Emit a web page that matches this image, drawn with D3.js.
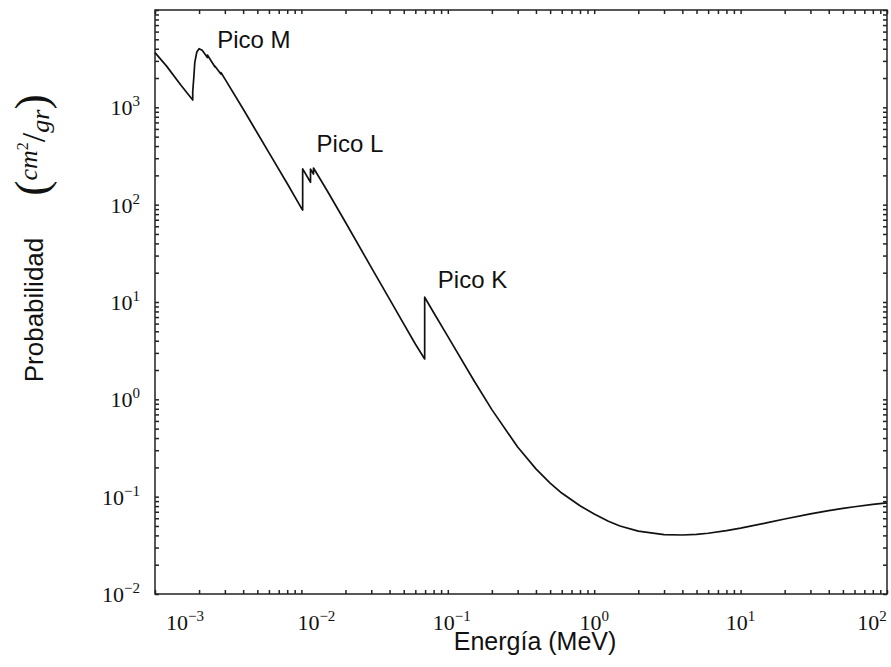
<!DOCTYPE html>
<html>
<head>
<meta charset="utf-8">
<script src="https://cdn.jsdelivr.net/npm/d3@7"></script>
<style>
  body { margin: 0; background: #fff; }
</style>
</head>
<body>
<div id="chart"></div>
<script>
// Energía (MeV) y probabilidad (cm²/gr)
const energy = [
  1.0e-3, 1.2e-3, 1.5e-3, 1.81e-3, 1.81e-3, 1.84e-3, 1.87e-3, 1.93e-3, 2.0e-3, 2.1e-3,
  2.28e-3, 2.28e-3, 2.57e-3, 2.57e-3, 2.82e-3, 2.82e-3, 3.0e-3, 4.0e-3, 5.0e-3, 6.0e-3,
  8.0e-3, 1.0e-2, 1.02e-2, 1.02e-2, 1.154e-2, 1.154e-2, 1.21e-2, 1.21e-2, 1.5e-2, 2.0e-2,
  3.0e-2, 4.0e-2, 5.0e-2, 6.0e-2, 6.95e-2, 6.95e-2, 8.0e-2, 0.1, 0.15, 0.2,
  0.3, 0.4, 0.5, 0.6, 0.8, 1, 1.25, 1.5, 2, 3,
  4, 5, 6, 8, 10, 15, 20, 30, 40, 50,
  60, 80, 100
];
const probability = [
  3650, 2650, 1700, 1190, 1450, 2000, 2900, 3700, 4000, 3850,
  3250, 3450, 2600, 2650, 2200, 2280, 1960, 960, 545, 342,
  165, 92, 88, 233, 170, 232, 206, 238, 139, 66,
  22.7, 10.7, 5.95, 3.7, 2.6, 11.2, 7.8, 4.44, 1.58, 0.784,
  0.324, 0.193, 0.138, 0.109, 0.0807, 0.0662, 0.0558, 0.05, 0.0443, 0.0408,
  0.0404, 0.041, 0.0421, 0.0447, 0.0475, 0.0538, 0.059, 0.0665, 0.072, 0.0757,
  0.0788, 0.0832, 0.0862
];

const xTickExps = [-3, -2, -1, 0, 1, 2];
const yTickExps = [-2, -1, 0, 1, 2, 3];

const peakLabels = ["Pico M", "Pico L", "Pico K"];
const peakEnergy = [2.66e-3, 1.27e-2, 8.55e-2];
const peakValue = [4070, 348, 13.9];

const width = 891;
const height = 667;
const marginTop = 10;
const marginRight = 4;
const marginBottom = 73;
const marginLeft = 155;

// desplazamiento de las etiquetas del eje x (como en la figura)
const xLabelShift = [30, 15, 4, 0, 0, -15];

const x = d3.scaleLog()
  .domain([1e-3, 1e2])
  .range([marginLeft, width - marginRight]);

const y = d3.scaleLog()
  .domain([1e-2, 1e4])
  .range([height - marginBottom, marginTop]);

const svg = d3.select("#chart")
  .append("svg")
  .attr("width", width)
  .attr("height", height)
  .attr("viewBox", [0, 0, width, height]);

// ticks menores y mayores
const minorTicks = (lo, hi) => {
  const t = [];
  for (let e = lo; e < hi; e++) {
    for (let m = 1; m < 10; m++) t.push(m * Math.pow(10, e));
  }
  t.push(Math.pow(10, hi));
  return t;
};
const xTicks = minorTicks(-3, 2);
const yTicks = minorTicks(-2, 4);

const tickStyle = g => g
  .call(g => g.select(".domain").remove())
  .call(g => g.selectAll(".tick line").attr("stroke", "#222").attr("stroke-width", 1.5));

svg.append("g")
  .attr("transform", `translate(0,${height - marginBottom})`)
  .call(d3.axisBottom(x).tickValues(xTicks).tickSize(-4).tickFormat(""))
  .call(tickStyle);
svg.append("g")
  .attr("transform", `translate(0,${marginTop})`)
  .call(d3.axisTop(x).tickValues(xTicks).tickSize(-4).tickFormat(""))
  .call(tickStyle);
svg.append("g")
  .attr("transform", `translate(${marginLeft},0)`)
  .call(d3.axisLeft(y).tickValues(yTicks).tickSize(-4).tickFormat(""))
  .call(tickStyle);
svg.append("g")
  .attr("transform", `translate(${width - marginRight},0)`)
  .call(d3.axisRight(y).tickValues(yTicks).tickSize(-4).tickFormat(""))
  .call(tickStyle);

// marco
svg.append("rect")
  .attr("x", marginLeft)
  .attr("y", marginTop)
  .attr("width", width - marginRight - marginLeft)
  .attr("height", height - marginBottom - marginTop)
  .attr("fill", "none")
  .attr("stroke", "#222")
  .attr("stroke-width", 1.5);

// etiquetas de ticks (10^n)
const powLabel = (sel) => {
  sel.append("tspan").text("10");
  sel.append("tspan")
    .attr("dy", -9)
    .attr("font-size", 15)
    .text(d => String(d).replace("-", "\u2212"));
};

svg.append("g")
  .attr("font-family", "'Liberation Serif', 'DejaVu Serif', serif")
  .attr("font-size", 22)
  .attr("fill", "#111")
  .selectAll("text")
  .data(xTickExps)
  .join("text")
  .attr("x", (d, i) => x(Math.pow(10, d)) + xLabelShift[i])
  .attr("y", height - marginBottom + 36)
  .attr("text-anchor", "middle")
  .call(powLabel);

svg.append("g")
  .attr("font-family", "'Liberation Serif', 'DejaVu Serif', serif")
  .attr("font-size", 22)
  .attr("fill", "#111")
  .selectAll("text")
  .data(yTickExps)
  .join("text")
  .attr("x", marginLeft - 15)
  .attr("y", d => y(Math.pow(10, d)) + 8)
  .attr("text-anchor", "end")
  .call(powLabel);

// curva
const points = energy.map((e, i) => [e, probability[i]]);
const line = d3.line()
  .x(d => x(d[0]))
  .y(d => y(d[1]));

svg.append("path")
  .datum(points)
  .attr("fill", "none")
  .attr("stroke", "#111")
  .attr("stroke-width", 1.7)
  .attr("stroke-linejoin", "round")
  .attr("d", line);

// picos
svg.append("g")
  .attr("font-family", "'Liberation Sans', Arial, sans-serif")
  .attr("font-size", 24)
  .attr("fill", "#111")
  .selectAll("text")
  .data(peakLabels)
  .join("text")
  .attr("x", (d, i) => x(peakEnergy[i]))
  .attr("y", (d, i) => y(peakValue[i]))
  .text(d => d);

// títulos de ejes
svg.append("text")
  .attr("x", 535)
  .attr("y", 650)
  .attr("text-anchor", "middle")
  .attr("font-family", "'Liberation Sans', Arial, sans-serif")
  .attr("font-size", 25)
  .attr("fill", "#111")
  .text("Energía (MeV)");

svg.append("text")
  .attr("transform", "translate(43,310) rotate(-90)")
  .attr("text-anchor", "middle")
  .attr("font-family", "'Liberation Sans', Arial, sans-serif")
  .attr("font-size", 26)
  .attr("fill", "#111")
  .text("Probabilidad");

const unit = svg.append("text")
  .attr("transform", "translate(47,145) rotate(-90)")
  .attr("text-anchor", "middle")
  .attr("font-family", "'Liberation Serif', 'DejaVu Serif', serif")
  .attr("font-size", 26)
  .attr("fill", "#111");
unit.append("tspan").attr("font-size", 46).text("(");
unit.append("tspan").attr("font-style", "italic").attr("dy", -10).text("cm");
unit.append("tspan").attr("font-size", 16).attr("dy", -9).text("2");
unit.append("tspan").attr("font-size", 34).attr("dy", 17).text("/");
unit.append("tspan").attr("font-style", "italic").attr("dy", 4).text("gr");
unit.append("tspan").attr("font-size", 46).attr("dy", -2).text(")");
</script>
</body>
</html>
